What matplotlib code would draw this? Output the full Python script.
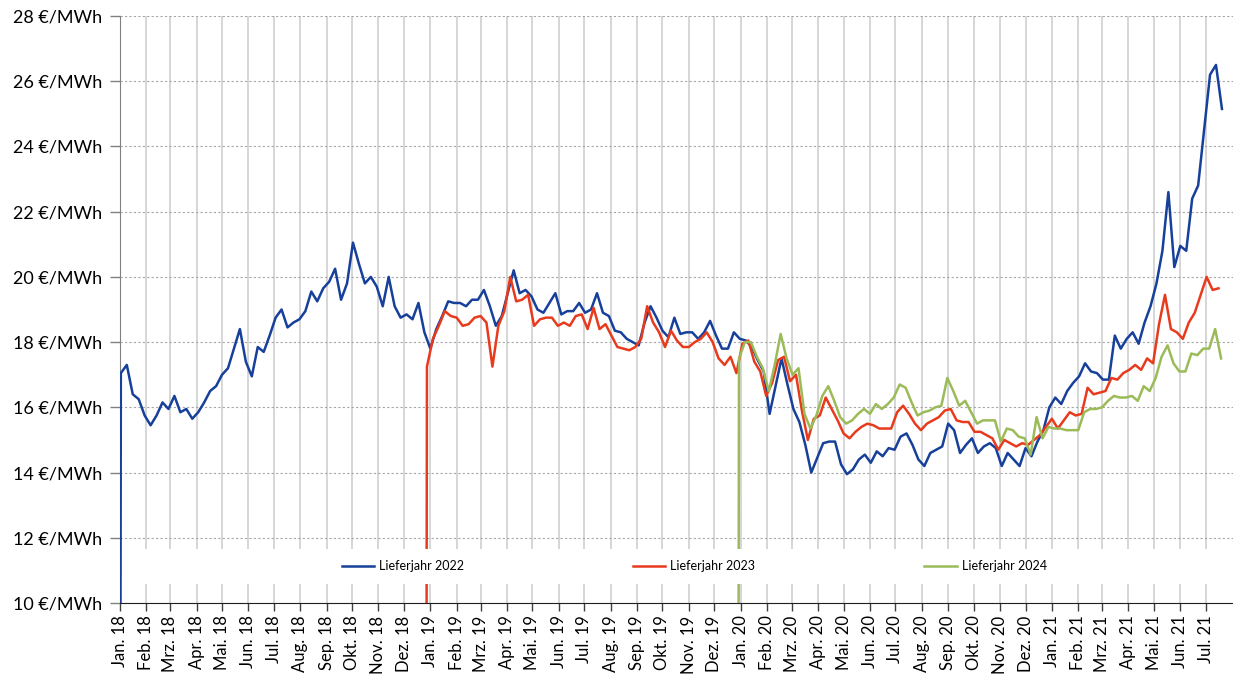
import pandas as pd
import matplotlib
matplotlib.use("Agg")
import matplotlib.pyplot as plt
from matplotlib.patches import Rectangle
from matplotlib.ticker import FuncFormatter

plt.rcParams['font.family'] = ['Lato', 'DejaVu Sans']

# Weekly settlement prices (each series opens with a 0 entry the day before)
blue_start = "2018-01-02"
blue_vals = [
    17.05, 17.3, 16.4, 16.25, 15.75, 15.45, 15.75, 16.15, 15.95, 16.35,
    15.85, 15.95, 15.65, 15.85, 16.15, 16.5, 16.65, 17.0, 17.2, 17.8,
    18.4, 17.4, 16.95, 17.85, 17.7, 18.2, 18.75, 19.0, 18.45, 18.6,
    18.7, 18.95, 19.55, 19.25, 19.65, 19.85, 20.25, 19.3,
    19.8, 21.05, 20.4, 19.8, 20.0, 19.7, 19.1, 20.0, 19.1, 18.75,
    18.85, 18.7, 19.2, 18.3, 17.8, 18.4, 18.8, 19.25, 19.2, 19.2,
    19.1, 19.3, 19.3, 19.6, 19.1, 18.5, 18.8, 19.5, 20.2, 19.5,
    19.6, 19.4, 19.0, 18.9, 19.2, 19.5, 18.85, 18.95,
    18.95, 19.2, 18.9, 19.0, 19.5, 18.9, 18.8, 18.35, 18.3, 18.1,
    18.0, 17.9, 18.6, 19.1, 18.75, 18.35, 18.15, 18.75, 18.25, 18.3,
    18.3, 18.1, 18.3, 18.65, 18.2, 17.8, 17.8, 18.3, 18.1, 18.05,
    17.85, 17.45, 17.1, 15.8, 16.65, 17.5, 16.7,
    15.95, 15.55, 14.85, 14.0, 14.45, 14.9, 14.95, 14.95, 14.25, 13.95,
    14.1, 14.4, 14.55, 14.3, 14.65, 14.5, 14.75, 14.7, 15.1, 15.2,
    14.85, 14.4, 14.2, 14.6, 14.7, 14.8, 15.5, 15.3, 14.6, 14.85,
    15.05, 14.6, 14.8, 14.9, 14.75, 14.2, 14.6,
    14.4, 14.2, 14.75, 14.5, 14.95, 15.3, 16.0, 16.3, 16.1, 16.5,
    16.75, 16.95, 17.35, 17.1, 17.05, 16.85, 16.85, 18.2, 17.8, 18.1,
    18.3, 17.95, 18.6, 19.1, 19.8, 20.8, 22.6, 20.3, 20.95, 20.8,
    22.4, 22.8, 24.5, 26.2, 26.5, 25.15,
]

red_start = "2018-12-28"
red_vals = [
    17.25, 18.1, 18.5, 18.95, 18.8, 18.75, 18.5, 18.55, 18.75, 18.8,
    18.6, 17.25, 18.5, 18.95, 20.0, 19.25, 19.3, 19.45, 18.5, 18.7,
    18.75, 18.75, 18.5, 18.6,
    18.5, 18.8, 18.85, 18.4, 19.05, 18.4, 18.55, 18.2, 17.85, 17.8,
    17.75, 17.85, 18.1, 19.1, 18.6, 18.3, 17.85, 18.35, 18.05, 17.85,
    17.85, 18.0, 18.1, 18.3, 18.0, 17.5, 17.3, 17.55, 17.05, 17.95,
    18.05, 17.4, 17.1, 16.35, 16.75, 17.45, 17.55, 16.8,
    17.0, 15.9, 15.0, 15.65, 15.75, 16.3, 15.95, 15.6, 15.2, 15.05,
    15.25, 15.4, 15.5, 15.45, 15.35, 15.35, 15.35, 15.85, 16.05, 15.8,
    15.5, 15.3, 15.5, 15.6, 15.7, 15.9, 15.95, 15.6, 15.55, 15.55,
    15.25, 15.25, 15.15, 15.05, 14.7, 15.0,
    14.9, 14.8, 14.9, 14.85, 15.0, 15.15, 15.4, 15.65, 15.35, 15.6,
    15.85, 15.75, 15.8, 16.6, 16.4, 16.45, 16.5, 16.9, 16.85, 17.05,
    17.15, 17.3, 17.15, 17.5, 17.35, 18.55, 19.45, 18.4, 18.3, 18.1,
    18.6, 18.9, 19.45, 20.0, 19.6, 19.65,
]

green_start = "2019-12-30"
green_vals = [
    17.5, 18.0, 18.0, 17.55, 17.2, 16.5, 17.3, 18.25, 17.5,
    17.0, 17.2, 15.8, 15.35, 15.75, 16.35, 16.65, 16.2, 15.7, 15.5,
    15.6, 15.8, 15.95, 15.8, 16.1, 15.95, 16.1, 16.3, 16.7, 16.6,
    16.15, 15.75, 15.85, 15.9, 16.0, 16.05, 16.9, 16.5, 16.05, 16.2,
    15.85, 15.5, 15.6, 15.6, 15.6, 14.95, 15.35,
    15.3, 15.1, 15.05, 14.55, 15.7, 15.05, 15.4, 15.35, 15.35, 15.3,
    15.3, 15.3, 15.85, 15.95, 15.95, 16.0, 16.2, 16.35, 16.3, 16.3,
    16.35, 16.2, 16.65, 16.5, 16.9, 17.55, 17.9, 17.35, 17.1, 17.1,
    17.65, 17.6, 17.8, 17.8, 18.4, 17.5,
]

series = [
    ("Lieferjahr 2022", blue_start, blue_vals, "#17409a"),
    ("Lieferjahr 2023", red_start, red_vals, "#e83a1c"),
    ("Lieferjahr 2024", green_start, green_vals, "#9bbb59"),
]

month_names = ["Jan.", "Feb.", "Mrz.", "Apr.", "Mai.", "Jun.",
               "Jul.", "Aug.", "Sep.", "Okt.", "Nov.", "Dez."]
y_ticks = [10, 12, 14, 16, 18, 20, 22, 24, 26, 28]

fig = plt.figure(figsize=(12.33, 6.79), dpi=100)
ax = fig.add_axes([120 / 1233, 76 / 679, 1113 / 1233, 587 / 679])

for label, start, vals, color in series:
    dates = pd.date_range(start, periods=len(vals), freq="7D")
    x = [dates[0] - pd.Timedelta(days=1)] + list(dates)
    y = [0] + vals
    ax.plot(x, y, color=color, lw=1.8, label=label, zorder=3)

months = pd.date_range("2018-01-01", "2021-07-01", freq="MS")
ax.set_xticks(months)
ax.set_xticklabels([f"{month_names[d.month - 1]} {d.year % 100}" for d in months],
                   rotation=90, fontsize=12)
ax.set_xlim(pd.Timestamp("2018-01-01"), pd.Timestamp("2021-08-02"))

ax.set_ylim(10, 28)
ax.set_yticks(y_ticks)
ax.yaxis.set_major_formatter(FuncFormatter(lambda v, p: f"{v:g} €/MWh"))
ax.tick_params(axis="y", labelsize=13, length=7, width=1, color="#808080", pad=6)
ax.tick_params(axis="x", length=6, width=1, color="#404040", pad=3)

ax.set_axisbelow(True)
ax.xaxis.grid(True, color="#cfcfcf", lw=1.2, ls="-")
ax.yaxis.grid(True, color="#a6a6a6", lw=0.8, ls=(0, (2, 2)))

for s in ["top", "right"]:
    ax.spines[s].set_visible(False)
ax.spines["left"].set_color("#808080")
ax.spines["bottom"].set_color("#202020")

# white band behind the legend
ax.add_patch(Rectangle((0.004, 0.032), 0.996, 0.06, transform=ax.transAxes,
                       facecolor="white", edgecolor="none", zorder=4))
leg = ax.legend(loc="center", bbox_to_anchor=(0.516, 0.063), ncol=3, frameon=False,
                fontsize=9, handlelength=2.6, handletextpad=0.4, columnspacing=13.5)
leg.set_zorder(5)

fig.savefig("out.png", dpi=100)
